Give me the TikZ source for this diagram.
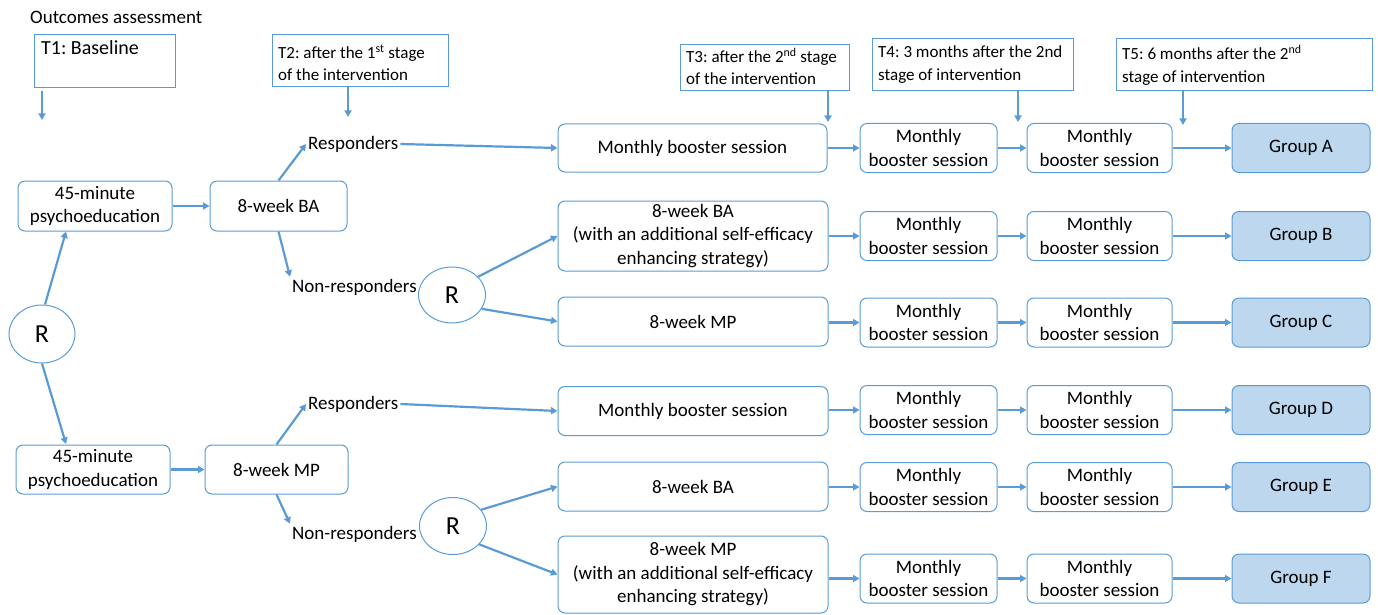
\documentclass[tikz,border=0pt]{standalone}
\usepackage{fontspec}
\setmainfont{Carlito}
\usetikzlibrary{arrows.meta,shapes.geometric}
\definecolor{lineblue}{HTML}{5B9BD5}
\definecolor{groupfill}{HTML}{BDD7EE}
\begin{document}
\frenchspacing
\begin{tikzpicture}[x=1pt,y=-1pt,
  box/.style={draw=lineblue, line width=1pt, rounded corners=7pt, align=center, inner sep=1pt,
    font=\fontsize{19}{23.5}\selectfont},
  grp/.style={box, fill=groupfill},
  tframe/.style={draw=lineblue, line width=1pt, anchor=north west, inner sep=0pt},
  tlabel/.style={align=left, anchor=north west, inner xsep=6pt, inner ysep=9pt,
    font=\fontsize{17}{21.5}\selectfont},
  circ/.style={draw=lineblue, line width=1pt, ellipse, inner sep=0pt, font=\fontsize{26}{30}\selectfont},
  lbl/.style={inner sep=2pt, font=\fontsize{19}{23}\selectfont},
  arr/.style={draw=lineblue, line width=2.2pt, -{Triangle[length=6.5pt,width=7pt]}},
]
\useasboundingbox (0,0) rectangle (1378,615);
% title
\node[lbl, anchor=west] (title) at (28,17) {Outcomes assessment};
% T boxes
\node[tframe, minimum width=141pt, minimum height=53pt] (T1) at (34,34) {};
\node[tlabel, inner xsep=7pt, inner ysep=6pt, font=\fontsize{20}{24}\selectfont] (T1l) at (T1.north west) {T1: Baseline};
\node[tframe, minimum width=176pt, minimum height=52pt] (T2) at (272,34) {};
\node[tlabel, inner ysep=11pt] (T2l) at (T2.north west) {T2: after the 1\textsuperscript{st} stage\\of the intervention};
\node[tframe, minimum width=169pt, minimum height=46pt] (T3) at (680,44) {};
\node[tlabel, inner ysep=4pt] (T3l) at (T3.north west) {T3: after the 2\textsuperscript{nd} stage\\of the intervention};
\node[tframe, minimum width=201pt, minimum height=52pt] (T4) at (872,38) {};
\node[tlabel, inner ysep=7pt, font=\fontsize{17}{23}\selectfont] (T4l) at (T4.north west) {T4: 3 months after the 2nd\\stage of intervention};
\node[tframe, minimum width=256pt, minimum height=52pt] (T5) at (1116,38) {};
\node[tlabel, inner ysep=7pt, font=\fontsize{17}{23}\selectfont] (T5l) at (T5.north west) {T5: 6 months after the 2\textsuperscript{nd}\\stage of intervention};
\coordinate (t1e) at (42,120);
\coordinate (t2e) at (348,117);
\coordinate (t3e) at (828,122);
\coordinate (t4e) at (1018,122);
\coordinate (t5e) at (1183,125);
\draw[arr] (T1.south -| t1e) ++(0,3) -- (t1e);
\draw[arr] (T2.south -| t2e) -- (t2e);
\draw[arr] (T3.south -| t3e) -- (t3e);
\draw[arr] (T4.south -| t4e) -- (t4e);
\draw[arr] (T5.south -| t5e) -- (t5e);
% left part
\node[circ, minimum width=66pt, minimum height=58pt] (R0) at (42,334) {R};
\node[box, minimum width=154pt, minimum height=50pt] (P1) at (95,206) {45-minute\\psychoeducation};
\node[box, minimum width=137pt, minimum height=50pt] (BA) at (278.5,206) {8-week BA};
\node[box, minimum width=154pt, minimum height=49pt] (P2) at (93,469.5) {45-minute\\psychoeducation};
\node[box, minimum width=143pt, minimum height=49pt] (MP) at (276.5,469.5) {8-week MP};
\node[lbl, anchor=west] (resp1) at (306,144) {Responders};
\node[lbl, anchor=west] (nr1) at (290,287) {Non-responders};
\node[lbl, anchor=west] (resp2) at (306,404) {Responders};
\node[lbl, anchor=west] (nr2) at (290,534) {Non-responders};
\node[circ, minimum width=67pt, minimum height=56pt] (Rm1) at (452,295) {R};
\node[circ, minimum width=67pt, minimum height=57pt] (Rm2) at (453,526) {R};
% stage-2 boxes
\node[box, minimum width=269pt, minimum height=48pt] (A1) at (692.5,148) {Monthly booster session};
\node[box, minimum width=270pt, minimum height=70pt] (B1) at (693,236) {8-week BA\\(with an additional self-efficacy\\enhancing strategy)};
\node[box, minimum width=270pt, minimum height=49pt] (C1) at (693,321.5) {8-week MP};
\node[box, minimum width=270pt, minimum height=49pt] (D1) at (693,411) {Monthly booster session};
\node[box, minimum width=270pt, minimum height=49pt] (E1) at (693,486.5) {8-week BA};
\node[box, minimum width=270pt, minimum height=77pt] (F1) at (693,574.5) {8-week MP\\(with an additional self-efficacy\\enhancing strategy)};
% booster columns
\foreach \r/\y in {A/148,B/236,C/322.5,D/410,E/487,F/578.5}{
  \node[box, minimum width=137pt, minimum height=49pt] (\r2) at (928.5,\y) {Monthly\\booster session};
  \node[box, minimum width=145pt, minimum height=49pt] (\r3) at (1099.5,\y) {Monthly\\booster session};
  \node[grp, minimum width=138pt, minimum height=49pt] (\r4) at (1301,\y) {Group \r};
}
% arrows left
\draw[arr] (R0.north) ++(3,0) -- (P1.south west -| 66,0) ;
\draw[arr] (P1) -- (BA);
\draw[arr] (R0.south) -- (66,444);
\draw[arr] (P2) -- (MP);
\draw[arr] (BA.north) -- (resp1.west);
\draw[arr] (BA.south) -- (nr1.north west);
\draw[arr] (MP.north) -- (resp2.west);
\draw[arr] (MP.south) -- (nr2.north west);
\draw[arr] (resp1.east) -- (A1.west);
\draw[arr] (resp2.east) -- (D1.west);
\draw[arr] (Rm1.35) -- (B1.west);
\draw[arr] (Rm1.-25) -- (C1.west);
\draw[arr] (Rm2.30) -- (E1.west);
\draw[arr] (Rm2.-35) -- (F1.west);
\foreach \r in {A,B,C,D,E,F}{
  \draw[arr] (\r1.east |- \r2.west) -- (\r2.west);
  \draw[arr] (\r2) -- (\r3);
  \draw[arr] (\r3) -- (\r4);
}
\end{tikzpicture}
\end{document}
